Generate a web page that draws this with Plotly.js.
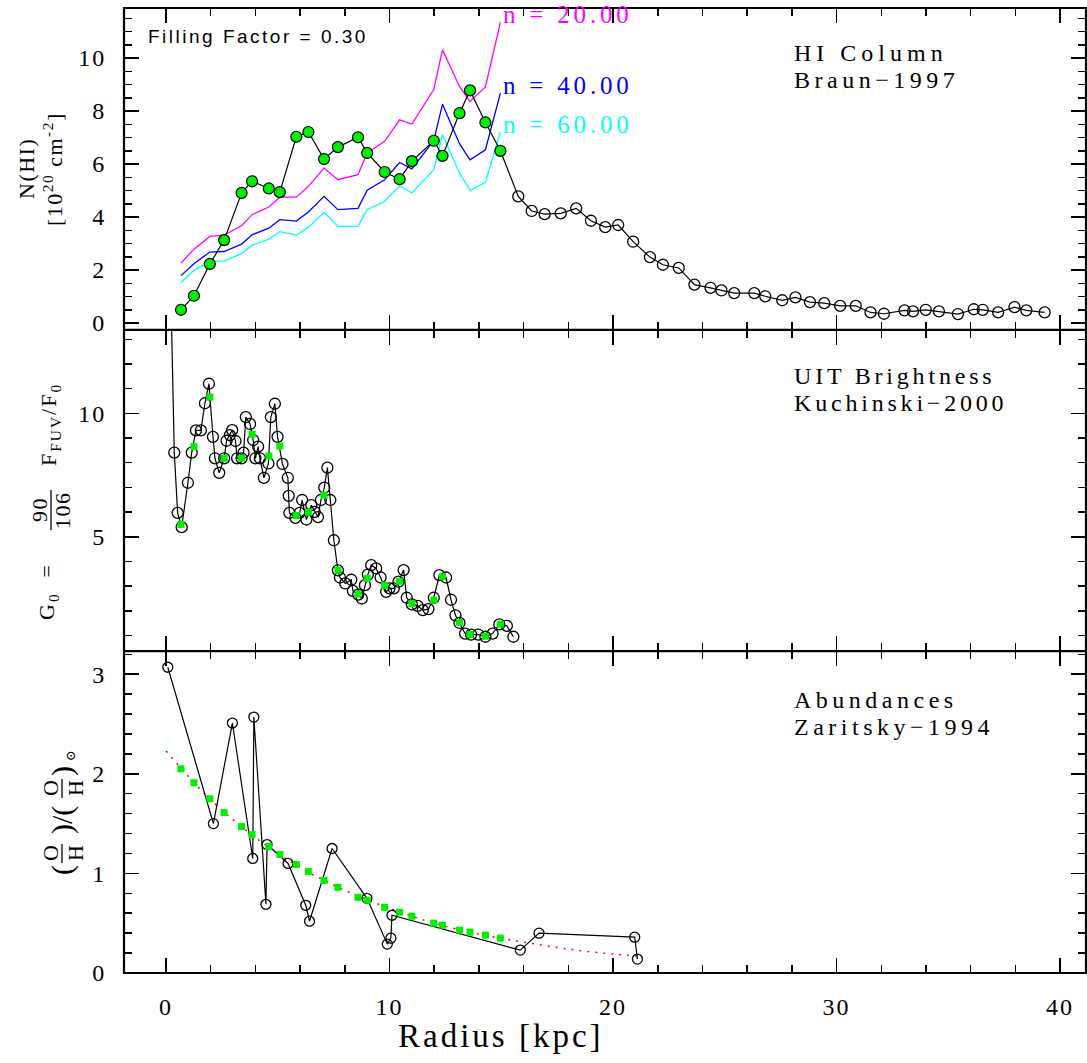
<!DOCTYPE html>
<html>
<head>
<meta charset="utf-8">
<script src="https://cdn.plot.ly/plotly-3.0.1.min.js"></script>
<style>
  body { margin: 0; padding: 0; background: #ffffff; }
  #chart { width: 1087px; height: 1063px; }
  g[class$="tick"] text { letter-spacing: 2px; }
</style>
</head>
<body>
<div id="chart"></div>
<script>
// ---------- DATA ----------
// radii (kpc) of the model / sampled points (shared by green markers in all panels)
const modelRadius = [0.67,1.25,1.96,2.60,3.38,3.85,4.60,5.09,5.83,6.37,7.07,7.69,8.59,9.00,9.78,10.45,11.00,11.98,12.37,13.13,13.60,14.29,14.96];
// HI column (1e20 cm^-2) at model radii (filled green circles)
const hiInner = [0.50,1.03,2.23,3.13,4.91,5.35,5.08,4.94,7.03,7.21,6.19,6.64,7.01,6.42,5.70,5.43,6.11,6.88,6.31,7.92,8.78,7.57,6.50];
// HI column beyond the sampled range (open circles)
const hiOuterRadius = [15.76,16.36,16.94,17.66,18.35,19.01,19.65,20.23,20.90,21.65,22.23,22.94,23.64,24.36,24.85,25.42,26.32,26.81,27.57,28.16,28.81,29.45,30.16,30.86,31.52,32.12,33.04,33.42,33.99,34.58,35.43,36.14,36.54,37.23,37.96,38.49,39.31];
const hiOuter = [4.78,4.23,4.11,4.14,4.33,3.86,3.62,3.70,3.07,2.49,2.20,2.08,1.45,1.33,1.23,1.13,1.13,1.01,0.86,0.97,0.79,0.75,0.65,0.65,0.40,0.35,0.48,0.44,0.50,0.44,0.34,0.52,0.50,0.40,0.60,0.48,0.40];
// model curves for densities n = 20, 40, 60
const n20 = [2.26,2.79,3.27,3.32,3.67,4.09,4.38,4.75,4.75,5.16,5.85,5.41,5.60,6.42,6.86,7.67,7.51,8.81,10.31,8.93,8.36,8.91,11.35];
const n40 = [1.79,2.24,2.68,2.70,2.98,3.33,3.58,3.90,3.85,4.19,4.78,4.28,4.33,5.01,5.41,6.06,5.82,6.89,8.26,6.77,6.16,6.54,8.68];
const n60 = [1.53,1.99,2.33,2.35,2.62,2.93,3.17,3.45,3.32,3.61,4.18,3.65,3.65,4.28,4.59,5.18,4.91,5.79,7.11,5.66,5.01,5.31,7.21];
const nLabels = ["n = 20.00","n = 40.00","n = 60.00"];

// UIT brightness G0
const uitRadius = [0.15,0.37,0.52,0.70,0.98,1.15,1.34,1.56,1.74,1.92,2.10,2.19,2.38,2.60,2.71,2.86,2.96,3.11,3.18,3.38,3.47,3.57,3.76,3.90,4.00,4.12,4.20,4.38,4.58,4.69,4.87,4.99,5.21,5.45,5.49,5.52,5.79,5.98,6.09,6.28,6.50,6.65,6.80,6.93,7.08,7.22,7.35,7.51,7.69,7.78,8.02,8.29,8.36,8.60,8.76,8.90,9.03,9.18,9.40,9.60,9.85,10.00,10.19,10.40,10.63,10.77,11.00,11.26,11.49,11.74,11.98,12.23,12.53,12.75,12.95,13.13,13.38,13.65,13.97,14.29,14.61,14.91,15.25,15.54];
const uitG0 = [17.7,8.41,5.97,5.39,7.19,8.41,9.31,9.31,10.41,11.20,9.05,8.18,7.59,8.18,8.89,9.12,9.32,8.88,8.18,8.18,8.41,9.85,9.57,8.92,8.18,8.65,8.18,7.39,7.97,9.85,10.39,9.05,7.95,7.39,6.66,5.97,5.77,5.97,6.49,5.70,6.28,6.01,5.80,6.49,6.99,7.80,6.49,4.86,3.64,3.35,3.11,3.26,2.81,2.66,2.50,3.04,3.47,3.85,3.72,3.35,2.77,2.91,2.91,3.18,3.65,2.53,2.26,2.20,2.03,2.07,2.53,3.45,3.35,2.45,1.82,1.51,1.08,1.04,1.04,0.95,1.08,1.45,1.39,0.95];
const uitModel = [5.50,8.66,10.65,8.18,8.18,9.15,8.27,8.68,5.86,5.99,6.68,3.64,2.68,3.31,3.04,3.20,2.30,2.43,3.38,1.54,1.04,0.97,1.46];

// Abundances (O/H)/(O/H)sun
const abRadius = [0.08,2.12,2.97,3.88,3.93,4.47,4.52,5.46,6.25,6.42,7.43,8.99,9.90,10.06,10.11,15.85,16.69,20.97,21.09];
const abValue = [3.07,1.50,2.51,1.15,2.57,0.69,1.29,1.10,0.68,0.52,1.25,0.75,0.29,0.35,0.58,0.23,0.40,0.36,0.14];
const abModel = [2.05,1.91,1.75,1.61,1.47,1.39,1.27,1.19,1.09,1.02,0.93,0.86,0.76,0.73,0.66,0.61,0.57,0.50,0.48,0.43,0.41,0.38,0.35];
const fitRadius = [0,2,4,6,8,10,12,14,16,18,20,21.1];
const fitValue = [2.23,1.74,1.36,1.06,0.83,0.65,0.50,0.39,0.31,0.24,0.19,0.17];

const xTickVals = [0,10,20,30,40];

// ---------- STYLE ----------
const SERIF = "Liberation Serif, DejaVu Serif, serif";
const GREEN = "#00ee00";
const W = 1087, H = 1063, ML = 124, MR = 1, MT = 8, MB = 90;
const PW = W - ML - MR, PH = H - MT - MB;
const px2x = p => (p - ML) / PW;
const py2y = p => (H - MB - p) / PH;

const hiAllR = modelRadius.concat(hiOuterRadius);
const hiAllV = hiInner.concat(hiOuter);

const traces = [
  // ---- top panel (x3 / y3) ----
  {x: modelRadius, y: n20, xaxis:'x3', yaxis:'y3', mode:'lines', line:{color:'#ff00ff', width:1.3}},
  {x: modelRadius, y: n40, xaxis:'x3', yaxis:'y3', mode:'lines', line:{color:'#0000ff', width:1.3}},
  {x: modelRadius, y: n60, xaxis:'x3', yaxis:'y3', mode:'lines', line:{color:'#00ffff', width:1.3}},
  {x: hiAllR, y: hiAllV, xaxis:'x3', yaxis:'y3', mode:'lines', line:{color:'#000', width:1.2}},
  {x: hiOuterRadius, y: hiOuter, xaxis:'x3', yaxis:'y3', mode:'markers',
   marker:{symbol:'circle-open', size:11, color:'#000', line:{width:1.3}}},
  {x: modelRadius, y: hiInner, xaxis:'x3', yaxis:'y3', mode:'markers',
   marker:{symbol:'circle', size:11, color:GREEN, line:{color:'#000', width:1.2}}},
  // ---- middle panel (x2 / y2) ----
  {x: uitRadius, y: uitG0, xaxis:'x2', yaxis:'y2', mode:'lines+markers', line:{color:'#000', width:1.2},
   marker:{symbol:'circle-open', size:11, color:'#000', line:{width:1.3}}},
  {x: modelRadius, y: uitModel, xaxis:'x2', yaxis:'y2', mode:'markers',
   marker:{symbol:'square', size:7, color:GREEN, line:{width:0}}},
  // ---- bottom panel (x / y) ----
  {x: fitRadius, y: fitValue, xaxis:'x', yaxis:'y', mode:'lines', line:{color:'#ff0000', width:1.5, dash:'2px,6px', shape:'spline'}},
  {x: abRadius, y: abValue, xaxis:'x', yaxis:'y', mode:'lines+markers', line:{color:'#000', width:1.2},
   marker:{symbol:'circle-open', size:10, color:'#000', line:{width:1.3}}},
  {x: modelRadius, y: abModel, xaxis:'x', yaxis:'y', mode:'markers',
   marker:{symbol:'square', size:7, color:GREEN, line:{width:0}}}
];

function xAxis(anchor, showLabels) {
  const ax = {
    anchor: anchor,
    range: [-1.88, 41.16], tick0: 0, dtick: 10,
    ticks:'inside', ticklen:15, tickwidth:1.5, tickcolor:'#000',
    minor:{dtick:2, tick0:0, ticks:'inside', ticklen:8, tickwidth:1.5, tickcolor:'#000'},
    showline:true, linecolor:'#000', linewidth:1, mirror:'allticks',
    showgrid:false, zeroline:false, showticklabels: showLabels,
    tickfont:{family:SERIF, size:24, color:'#000'}
  };
  if (showLabels) { ax.tickmode = 'array'; ax.tickvals = xTickVals; ax.ticklabelstandoff = 12; }
  return ax;
}
function yAxis(anchor, domain, range, dtick, minor) {
  return {
    anchor: anchor, domain: domain, range: range, dtick: dtick, tick0: 0,
    ticks:'inside', ticklen:15, tickwidth:1.5, tickcolor:'#000',
    minor:{dtick:minor, ticks:'inside', ticklen:8, tickwidth:1.5, tickcolor:'#000'},
    showline:true, linecolor:'#000', linewidth:1, mirror:'allticks',
    showgrid:false, zeroline:false, ticklabelstandoff: 12,
    tickfont:{family:SERIF, size:24, color:'#000'}
  };
}

function ann(x, y, xref, yref, text, opts) {
  return Object.assign({x:x, y:y, xref:xref, yref:yref, text:text, showarrow:false,
    xanchor:'left', yanchor:'middle', font:{family:SERIF, size:24, color:'#000'}}, opts || {});
}
function rot(px, py, text, size, extra) {
  return Object.assign({x:px2x(px), y:py2y(py), xref:'paper', yref:'paper', text:text, showarrow:false,
    textangle:-90, xanchor:'center', yanchor:'middle',
    font:{family:SERIF, size:size, color:'#000'}}, extra || {});
}
const sp = (t, s) => '<span style="letter-spacing:' + s + 'px">' + t + '</span>';

const annotations = [
  ann(-0.89, 10.82, 'x3', 'y3', sp('Filling Factor = 0.30', 2.5),
      {font:{family:'Liberation Sans, Arial, sans-serif', size:19, color:'#000'}}),
  ann(15.0, 11.64, 'x3', 'y3', sp(nLabels[0], 3.8), {font:{family:SERIF, size:25, color:'#ff00ff'}}),
  ann(15.0, 8.96, 'x3', 'y3', sp(nLabels[1], 3.8), {font:{family:SERIF, size:25, color:'#0000ff'}}),
  ann(15.0, 7.48, 'x3', 'y3', sp(nLabels[2], 3.8), {font:{family:SERIF, size:25, color:'#00ffff'}}),
  ann(28.0, 10.19, 'x3', 'y3', sp('HI Column', 5)),
  ann(28.0, 9.18, 'x3', 'y3', sp('Braun\u22121997', 4.5)),
  ann(28.0, 11.51, 'x2', 'y2', sp('UIT Brightness', 3.8)),
  ann(28.0, 10.42, 'x2', 'y2', sp('Kuchinski\u22122000', 3.8)),
  ann(28.0, 2.74, 'x', 'y', sp('Abundances', 4.5)),
  ann(28.0, 2.47, 'x', 'y', sp('Zaritsky\u22121994', 4.5)),
  // x-axis title
  ann(15, py2y(1036), 'x', 'paper', sp('Radius [kpc]', 3), {xanchor:'center', font:{family:SERIF, size:33, color:'#000'}}),
  // top y title
  rot(27, 169, sp('N(HI)', 1.5), 22),
  rot(53, 169, sp('[10<sup>20</sup> cm<sup>-2</sup>]', 1.5), 22),
  // middle y title
  rot(48, 592, sp('G<sub>0</sub>  =', 2), 22),
  rot(40, 510, sp('90', 1.5), 22),
  rot(63, 510, sp('106', 1.5), 22),
  rot(50, 425, sp('F<sub>FUV</sub>/F<sub>0</sub>', 2), 22),
  // bottom y title
  rot(62, 870, '(', 30),
  rot(50, 853, 'O', 22),
  rot(75, 853, 'H', 22),
  rot(62, 820, ')/(', 30),
  rot(50, 788, 'O', 22),
  rot(75, 788, 'H', 22),
  rot(62, 771, ')', 30),
  rot(70, 756, '\u2299', 13)
];

const shapes = [
  // fraction bars of the rotated axis titles
  {type:'line', xref:'paper', yref:'paper', x0:px2x(51), x1:px2x(51), y0:py2y(490), y1:py2y(530), line:{color:'#000', width:1.3}},
  {type:'line', xref:'paper', yref:'paper', x0:px2x(62), x1:px2x(62), y0:py2y(844), y1:py2y(863), line:{color:'#000', width:1.3}},
  {type:'line', xref:'paper', yref:'paper', x0:px2x(62), x1:px2x(62), y0:py2y(779), y1:py2y(798), line:{color:'#000', width:1.3}},
  // frame and panel separators
  {type:'rect', xref:'paper', yref:'paper', x0:0, x1:1, y0:0, y1:1, line:{color:'#000', width:2.2}, layer:'above'},
  {type:'line', xref:'paper', yref:'paper', x0:0, x1:1, y0:1/3, y1:1/3, line:{color:'#000', width:2}, layer:'above'},
  {type:'line', xref:'paper', yref:'paper', x0:0, x1:1, y0:2/3, y1:2/3, line:{color:'#000', width:2}, layer:'above'}
];

const layout = {
  width: W, height: H,
  margin: {l:ML, r:MR, t:MT, b:MB},
  paper_bgcolor:'#fff', plot_bgcolor:'#fff',
  showlegend:false,
  font:{family:SERIF, color:'#000'},
  xaxis: xAxis('y', true),
  xaxis2: xAxis('y2', false),
  xaxis3: xAxis('y3', false),
  yaxis: yAxis('x', [0, 1/3], [0, 3.23], 1, 0.2),
  yaxis2: yAxis('x2', [1/3, 2/3], [0.36, 13.39], 5, 1),
  yaxis3: yAxis('x3', [2/3, 1], [-0.25, 11.89], 2, 0.5),
  annotations: annotations,
  shapes: shapes
};

Plotly.newPlot('chart', traces, layout, {displayModeBar:false, staticPlot:true});
</script>
</body>
</html>
